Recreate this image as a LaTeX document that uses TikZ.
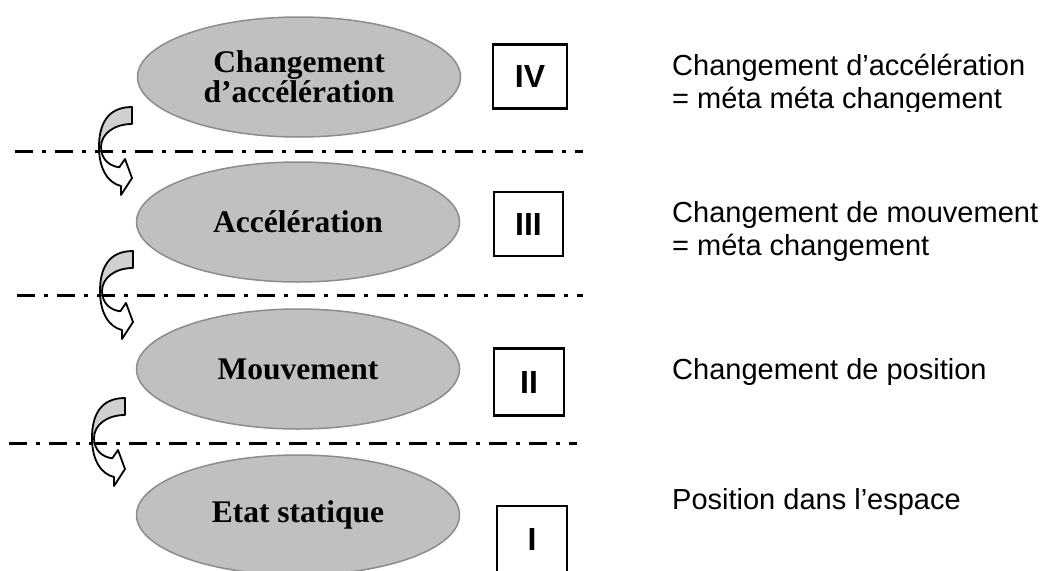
\documentclass[tikz,border=0pt]{standalone}
\usepackage{fontspec}
\setmainfont{Liberation Serif}
\setsansfont{Liberation Sans}
\usetikzlibrary{shapes.geometric}
\definecolor{ellfill}{HTML}{C0C0C0}
\definecolor{elldraw}{HTML}{8C8C8C}
\definecolor{backface}{HTML}{D0D0D0}

\begin{document}
\begin{tikzpicture}[x=1pt,y=-1pt,
  level/.style={ellipse, draw=elldraw, fill=ellfill, line width=1.5pt,
    minimum width=323pt, minimum height=120pt, inner sep=0pt, align=center,
    font=\fontsize{31.5}{28}\selectfont\bfseries},
  numbox/.style={draw=black, line width=2.2pt, minimum width=71pt,
    minimum height=64pt, inner sep=0pt,
    font=\sffamily\bfseries\fontsize{32}{32}\selectfont},
  note/.style={anchor=base west, inner sep=0pt,
    font=\sffamily\fontsize{29}{33}\selectfont},
  sep/.style={line width=3pt, dash pattern=on 18pt off 9pt on 4pt off 9pt},
  arrowline/.style={draw=black, line width=1.8pt, line join=round},
  levelarrow/.pic={
    % front face, with the head
    \filldraw[arrowline, fill=white]
      (-33,40) .. controls (-33,62) and (-24,76) .. (-11,79)
      -- (-11,88) -- (0,71) -- (-7,52) -- (-12.7,60.3)
      .. controls (-23,59) and (-31,52) .. (-31,40) -- cycle;
    % back face, shaded
    \filldraw[arrowline, fill=backface]
      (0,0) .. controls (-25,0) and (-33,18) .. (-33,40)
      -- (-31,40) .. controls (-31,27) and (-18,17) .. (0,17) -- cycle;
  }
]
\useasboundingbox (0,0) rectangle (1043,570);

% levels
\node[level] (l4) at (299,77)  {Changement\\d’accélération};
\node[level] (l3) at (298,222) {Accélération};
\node[level] (l2) at (298,369) {Mouvement};
\node[level] (l1) at (298,515) {Etat statique};

% level numbers
\node[numbox, minimum width=74pt] (b4) at (530,76.5) {IV};
\node[numbox, minimum width=69pt] (b3) at (528.5,224) {III};
\node[numbox, minimum width=70pt, minimum height=67pt] (b2) at (529,382) {II};
\node[numbox, minimum width=70pt, minimum height=66pt] (b1) at (532,539) {I};

% separators between levels
\coordinate (s1a) at (15,151);  \coordinate (s1b) at (583,151);
\coordinate (s2a) at (17,295);  \coordinate (s2b) at (583,295);
\coordinate (s3a) at (9,443);   \coordinate (s3b) at (577,443);
\draw[sep] (s1a) -- (s1b);
\draw[sep] (s2a) -- (s2b);
\draw[sep] (s3a) -- (s3b);

% curved arrows crossing each separator
\pic at (132,107) {levelarrow};
\pic at (133,251) {levelarrow};
\pic at (125,398) {levelarrow};

% descriptions
\node[note] (n4a) at (672,75) {Changement d’accélération};
\begin{scope}
  \clip (600,80) rectangle (1043,111);
  \node[note] (n4b) at (672,108) {= méta méta changement};
\end{scope}
\node[note] (n3a) at (672,222) {Changement de mouvement};
\node[note] (n3b) at (672,255) {= méta changement};
\node[note] (n2)  at (672,379) {Changement de position};
\node[note] (n1)  at (672,509) {Position dans l’espace};
\end{tikzpicture}
\end{document}
